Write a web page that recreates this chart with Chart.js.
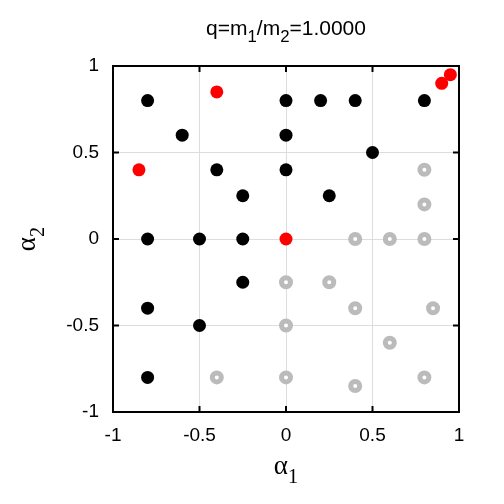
<!DOCTYPE html>
<html>
<head>
<meta charset="utf-8">
<script src="https://cdn.jsdelivr.net/npm/chart.js@4"></script>
<style>
  html, body { margin: 0; padding: 0; background: #fff; }
  #wrap { width: 504px; height: 504px; }
</style>
</head>
<body>
<div id="wrap"><canvas id="spinChart" width="504" height="504"></canvas></div>
<script>
// Black points
const blackA1 = [-0.8, -0.6, -0.4, -0.25, 0, 0, 0, 0.2, 0.4, 0.8, 0.5, 0.25, -0.8, -0.5, -0.25, -0.25, -0.8, -0.5, -0.8];
const blackA2 = [0.8, 0.6, 0.4, 0.25, 0.8, 0.6, 0.4, 0.8, 0.8, 0.8, 0.5, 0.25, 0, 0, 0, -0.25, -0.4, -0.5, -0.8];

// Red points
const redA1 = [-0.4, -0.85, 0, 0.9, 0.95];
const redA2 = [0.85, 0.4, 0, 0.9, 0.95];

// Gray points
const grayA1 = [0.8, 0.8, 0.4, 0.6, 0.8, 0, 0.25, 0.4, 0.85, 0, 0.6, -0.4, 0, 0.4, 0.8];
const grayA2 = [0.4, 0.2, 0, 0, 0, -0.25, -0.25, -0.4, -0.4, -0.5, -0.6, -0.8, -0.8, -0.85, -0.8];

const tickValues = [-1, -0.5, 0, 0.5, 1];

// Labels with subscripts: [text, isSubscript]
const titleParts = [['q=m', false], ['1', true], ['/m', false], ['2', true], ['=1.0000', false]];
const xTitleParts = [['\u03b1', false], ['1', true]];
const yTitleParts = [['\u03b1', false], ['2', true]];

function toPoints(xs, ys) {
    return xs.map((x, i) => ({ x: x, y: ys[i] }));
}

// Draw text with subscripts, centred on (0, 0) of the current transform
function drawRich(ctx, parts, family, size, subScale) {
    const subSize = size * subScale;
    const fontFor = sub => (sub ? subSize : size) + 'px "' + family + '"';
    let total = 0;
    parts.forEach(([t, sub]) => {
        ctx.font = fontFor(sub);
        total += ctx.measureText(t).width;
    });
    let x = -total / 2;
    ctx.textAlign = 'left';
    ctx.textBaseline = 'alphabetic';
    parts.forEach(([t, sub]) => {
        ctx.font = fontFor(sub);
        ctx.fillText(t, x, size * 0.35 + (sub ? size * 0.3 : 0));
        x += ctx.measureText(t).width;
    });
}

// Frame, inward tick marks, title and axis labels
const framePlugin = {
    id: 'frame',
    afterDraw(chart) {
        const { ctx, chartArea: a, scales } = chart;
        ctx.save();
        ctx.strokeStyle = '#000';
        ctx.lineWidth = 2;
        ctx.strokeRect(a.left, a.top, a.right - a.left, a.bottom - a.top);
        const len = 6;
        ctx.beginPath();
        tickValues.forEach(v => {
            const px = scales.x.getPixelForValue(v);
            const py = scales.y.getPixelForValue(v);
            ctx.moveTo(px, a.bottom); ctx.lineTo(px, a.bottom - len);
            ctx.moveTo(px, a.top); ctx.lineTo(px, a.top + len);
            ctx.moveTo(a.left, py); ctx.lineTo(a.left + len, py);
            ctx.moveTo(a.right, py); ctx.lineTo(a.right - len, py);
        });
        ctx.stroke();

        const cx = (a.left + a.right) / 2;
        const cy = (a.top + a.bottom) / 2;
        ctx.fillStyle = '#000';

        ctx.save();
        ctx.translate(cx, 28);
        drawRich(ctx, titleParts, 'Liberation Sans', 21, 0.8);
        ctx.restore();

        ctx.save();
        ctx.translate(cx, 465);
        drawRich(ctx, xTitleParts, 'Liberation Serif', 27, 0.75);
        ctx.restore();

        ctx.save();
        ctx.translate(26, cy);
        ctx.rotate(-Math.PI / 2);
        drawRich(ctx, yTitleParts, 'Liberation Serif', 27, 0.75);
        ctx.restore();

        ctx.restore();
    }
};

const ctx = document.getElementById('spinChart').getContext('2d');
new Chart(ctx, {
    type: 'scatter',
    data: {
        datasets: [
            {
                label: 'gray',
                data: toPoints(grayA1, grayA2),
                backgroundColor: '#ffffff',
                borderColor: '#bbbbbb',
                borderWidth: 5,
                pointRadius: 4.5,
                pointHoverRadius: 4.5
            },
            {
                label: 'black',
                data: toPoints(blackA1, blackA2),
                backgroundColor: '#000000',
                borderColor: '#000000',
                borderWidth: 0,
                pointRadius: 6.5,
                pointHoverRadius: 6.5
            },
            {
                label: 'red',
                data: toPoints(redA1, redA2),
                backgroundColor: '#ff0000',
                borderColor: '#ff0000',
                borderWidth: 0,
                pointRadius: 6.5,
                pointHoverRadius: 6.5
            }
        ]
    },
    options: {
        responsive: false,
        animation: false,
        layout: { padding: { left: 0, right: 45, top: 66, bottom: 0 } },
        plugins: {
            legend: { display: false },
            tooltip: { enabled: false },
            title: { display: false }
        },
        scales: {
            x: {
                type: 'linear',
                min: -1,
                max: 1,
                afterBuildTicks(scale) { scale.ticks = tickValues.map(v => ({ value: v })); },
                afterFit(scale) { scale.height = 92; },
                grid: { color: '#dddddd', lineWidth: 1, drawTicks: false },
                border: { display: false },
                ticks: {
                    color: '#000',
                    font: { family: 'Liberation Sans', size: 19 },
                    padding: 12,
                    maxRotation: 0,
                    callback: v => String(v)
                }
            },
            y: {
                type: 'linear',
                min: -1,
                max: 1,
                afterBuildTicks(scale) { scale.ticks = tickValues.map(v => ({ value: v })); },
                afterFit(scale) { scale.width = 113; },
                grid: { color: '#dddddd', lineWidth: 1, drawTicks: false },
                border: { display: false },
                ticks: {
                    color: '#000',
                    font: { family: 'Liberation Sans', size: 19 },
                    padding: 14,
                    callback: v => String(v)
                }
            }
        }
    },
    plugins: [framePlugin]
});
</script>
</body>
</html>
